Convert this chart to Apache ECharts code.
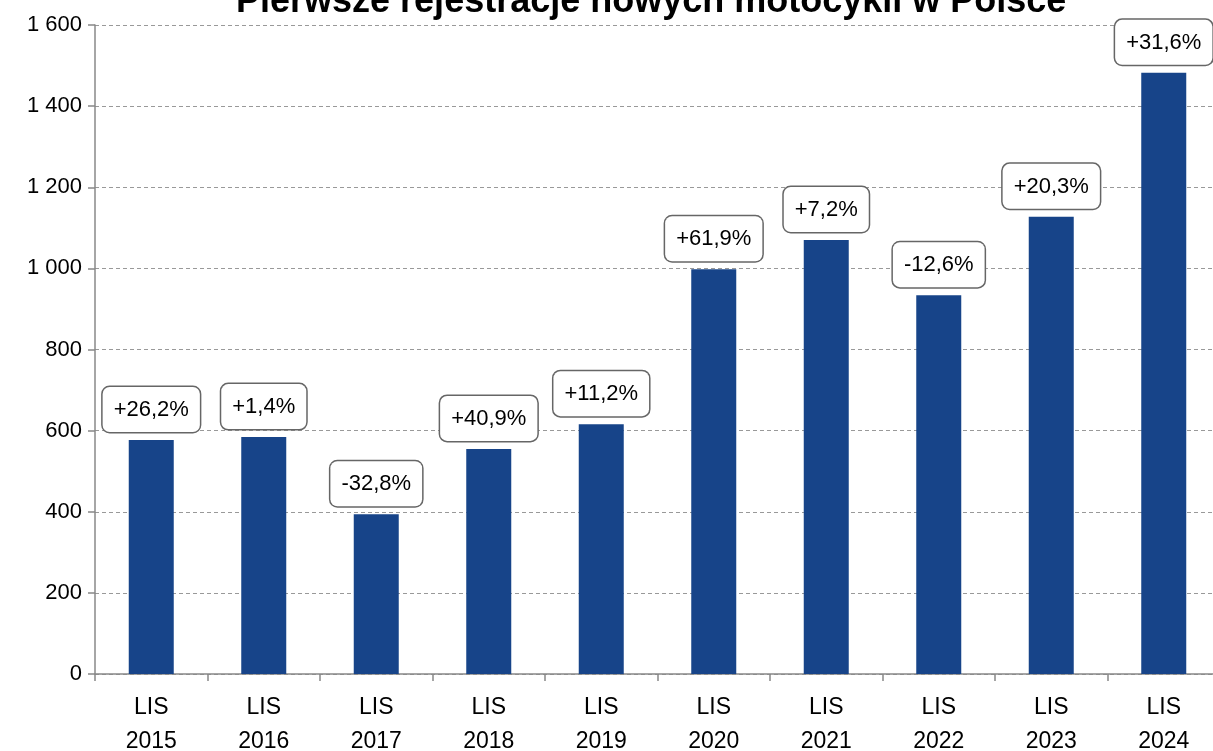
<!DOCTYPE html>
<html>
<head>
<meta charset="utf-8">
<script src="https://cdn.jsdelivr.net/npm/echarts@6/dist/echarts.min.js"></script>
<style>html,body{margin:0;padding:0;background:#fff;}#c{width:1213px;height:751px;}</style>
</head>
<body>
<div id="c"></div>
<script>
const titleText = 'Pierwsze rejestracje nowych motocykli w Polsce';
const categories = ['LIS\n2015','LIS\n2016','LIS\n2017','LIS\n2018','LIS\n2019','LIS\n2020','LIS\n2021','LIS\n2022','LIS\n2023','LIS\n2024'];
const registrations = [577, 584, 394, 555, 616, 998, 1070, 934, 1127, 1482];
const changes = ['+26,2%','+1,4%','-32,8%','+40,9%','+11,2%','+61,9%','+7,2%','-12,6%','+20,3%','+31,6%'];

const FONT = '"Liberation Sans", Arial, sans-serif';
const chart = echarts.init(document.getElementById('c'));
chart.setOption({
  animation: false,
  backgroundColor: '#fff',
  title: {
    text: titleText, left: 231, top: -21,
    textStyle: { fontFamily: FONT, fontSize: 36, fontWeight: 'bold', color: '#000' }
  },
  grid: { left: 95, right: -7, top: 25, bottom: 77, containLabel: false, outerBoundsMode: 'none' },
  xAxis: {
    type: 'category', data: categories,
    axisLine: { lineStyle: { color: '#888', width: 1.5 } },
    axisTick: { show: true, length: 7, lineStyle: { color: '#888', width: 1.5 } },
    axisLabel: { fontFamily: FONT, fontSize: 23, color: '#000', lineHeight: 34, margin: 17 }
  },
  yAxis: {
    type: 'value', min: 0, max: 1600, interval: 200,
    axisLine: { show: true, lineStyle: { color: '#888', width: 1.5 } },
    axisTick: { show: true, length: 7, lineStyle: { color: '#888', width: 1.5 } },
    splitLine: { lineStyle: { color: '#999', type: [4, 3], width: 1 } },
    axisLabel: {
      fontFamily: FONT, fontSize: 22, color: '#000', margin: 13,
      formatter: v => String(v).replace(/\B(?=(\d{3})+(?!\d))/g, ' ')
    }
  },
  series: [{
    type: 'bar', data: registrations, barWidth: 45,
    itemStyle: { color: '#174489' },
    label: {
      show: true, position: 'top', distance: 8,
      formatter: p => changes[p.dataIndex],
      fontFamily: FONT, fontSize: 22, color: '#000',
      backgroundColor: '#fff', borderColor: '#666', borderWidth: 1.5, borderRadius: 7,
      padding: [12, 11, 11, 11]
    }
  }]
});
</script>
</body>
</html>
